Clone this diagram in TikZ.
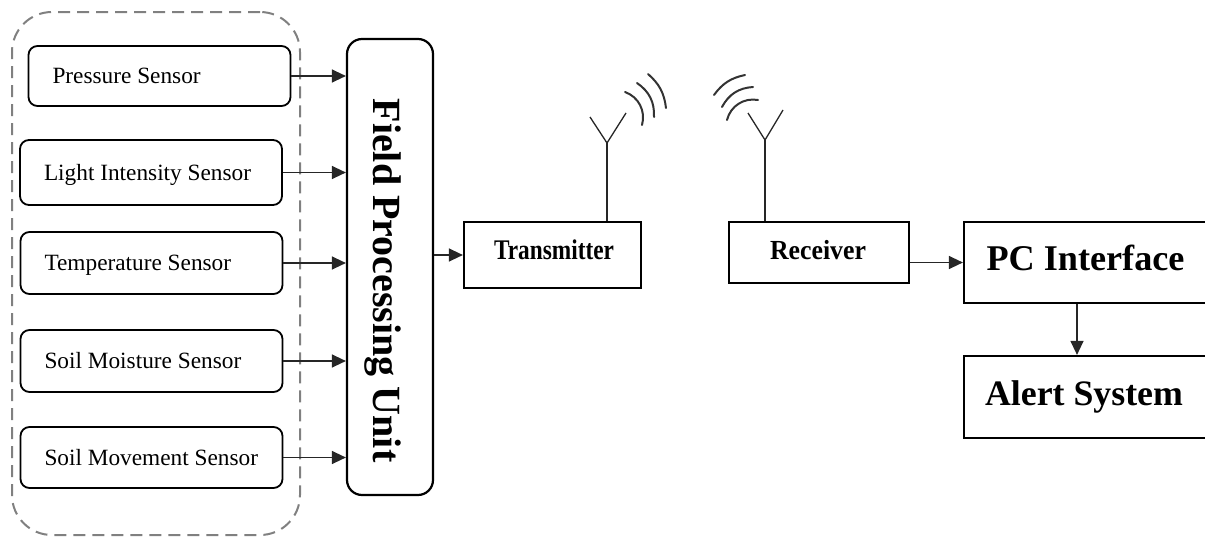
\documentclass[tikz,border=0pt]{standalone}
\usepackage{fontspec}
\setmainfont{Liberation Serif}
\usetikzlibrary{arrows.meta}
\newcommand{\sensortext}[1]{\makebox[214pt][l]{#1}}
\begin{document}
\begin{tikzpicture}[x=1pt,y=-1pt,
  sensor/.style={draw, line width=1.8pt, rounded corners=9pt, minimum width=262pt,
    inner xsep=24pt, inner ysep=0pt,
    font=\fontsize{23.3pt}{24pt}\selectfont, text height=15.5pt, text depth=0pt},
  plainbox/.style={draw, line width=2.2pt, inner sep=0pt},
  grpbox/.style={draw=black!50, line width=2pt, dash pattern=on 12pt off 7pt,
    rounded corners=40pt, minimum width=288pt, minimum height=523pt, inner sep=0pt},
  arr/.style={line width=1.3pt, draw=black!85, -{Triangle[length=14pt,width=13pt]}},
  wave/.style={line width=2pt, draw=black!80, line cap=round},
  ant/.style={line width=1.3pt, draw=black!85}
]
\useasboundingbox (0,0) rectangle (1205,538);

% dashed group
\node[grpbox] (grp) at (156,273.5) {};

% sensors
\node[sensor, minimum height=60pt] (ps) at (159.5,76) {\sensortext{Pressure Sensor}};
\node[sensor, minimum height=65pt] (li) at (151,172.5) {\sensortext{Light Intensity Sensor}};
\node[sensor, minimum height=62pt] (ts) at (151.5,263) {\sensortext{Temperature Sensor}};
\node[sensor, minimum height=62pt] (sm) at (151.5,361) {\sensortext{Soil Moisture Sensor}};
\node[sensor, minimum height=61pt] (sv) at (151.5,457.5) {\sensortext{Soil Movement Sensor}};

% field processing unit
\node[draw, line width=2.2pt, rounded corners=15pt, minimum width=86pt, minimum height=456pt, inner sep=0pt] (fpu) at (390,267) {};
\node[rotate=-90, inner sep=0pt, text height=27pt, text depth=0pt,
  font=\fontsize{40pt}{40pt}\selectfont\bfseries] (fput) at (386.5,280.5) {Field Processing Unit};

\foreach \s in {ps,li,ts,sm,sv}
  \draw[arr] (\s.east) -- (\s.east -| fpu.west);

% transmitter
\node[plainbox, minimum width=177pt, minimum height=66pt] (tx) at (552.5,255) {};
\node[inner sep=0pt] (txt) at (554,249.5) {\scalebox{1}[1.22]{\fontsize{23.3pt}{24pt}\selectfont\bfseries Transmitter}};
\draw[arr] (fpu.east |- tx.west) -- (tx.west);

% receiver
\node[plainbox, minimum width=180pt, minimum height=61pt] (rx) at (819,252.5) {};
\node[inner sep=0pt] (rxt) at (818,250) {\scalebox{1}[1.07]{\fontsize{25.8pt}{26pt}\selectfont\bfseries Receiver}};

% PC interface and alert system
\node[plainbox, minimum width=251pt, minimum height=81pt] (pc) at (1089.5,262.5) {};
\node[inner sep=0pt, text height=24.5pt, text depth=0pt, font=\fontsize{36.2pt}{37pt}\selectfont\bfseries] (pct) at (1085.5,258) {PC Interface};
\node[plainbox, minimum width=251pt, minimum height=82pt] (al) at (1089.5,397) {};
\node[inner sep=0pt, text height=24.5pt, text depth=0pt, font=\fontsize{35.8pt}{37pt}\selectfont\bfseries] (alt) at (1084,393) {Alert System};

\draw[arr] (rx.east |- pc.west) -- (pc.west);
\draw[arr] ([xshift=-12.5pt]pc.south) -- ([xshift=-12.5pt]al.north);

% transmitter antenna
\coordinate (txa) at (607,143);
\coordinate (txl) at (590,117);
\coordinate (txr) at (626,113);
\draw[ant] (txa) -- (txa |- tx.north);
\draw[ant] (txl) -- (txa) -- (txr);
\coordinate (tw1a) at (625,92);  \coordinate (tw1b) at (642,125);
\coordinate (tw2a) at (637,83);  \coordinate (tw2b) at (654,117);
\coordinate (tw3a) at (648,74);  \coordinate (tw3b) at (666,108);
\draw[wave] (tw1a) to[bend left=43] (tw1b);
\draw[wave] (tw2a) to[bend left=29] (tw2b);
\draw[wave] (tw3a) to[bend left=21] (tw3b);

% receiver antenna
\coordinate (rxa) at (765,140);
\coordinate (rxl) at (748,113);
\coordinate (rxr) at (783,110);
\draw[ant] (rxa) -- (rxa |- rx.north);
\draw[ant] (rxl) -- (rxa) -- (rxr);
\coordinate (rw1a) at (727,120); \coordinate (rw1b) at (758,100);
\coordinate (rw2a) at (722,107); \coordinate (rw2b) at (753,87);
\coordinate (rw3a) at (714,95);  \coordinate (rw3b) at (745,75);
\draw[wave] (rw1a) to[bend left=43] (rw1b);
\draw[wave] (rw2a) to[bend left=29] (rw2b);
\draw[wave] (rw3a) to[bend left=21] (rw3b);
\end{tikzpicture}
\end{document}
